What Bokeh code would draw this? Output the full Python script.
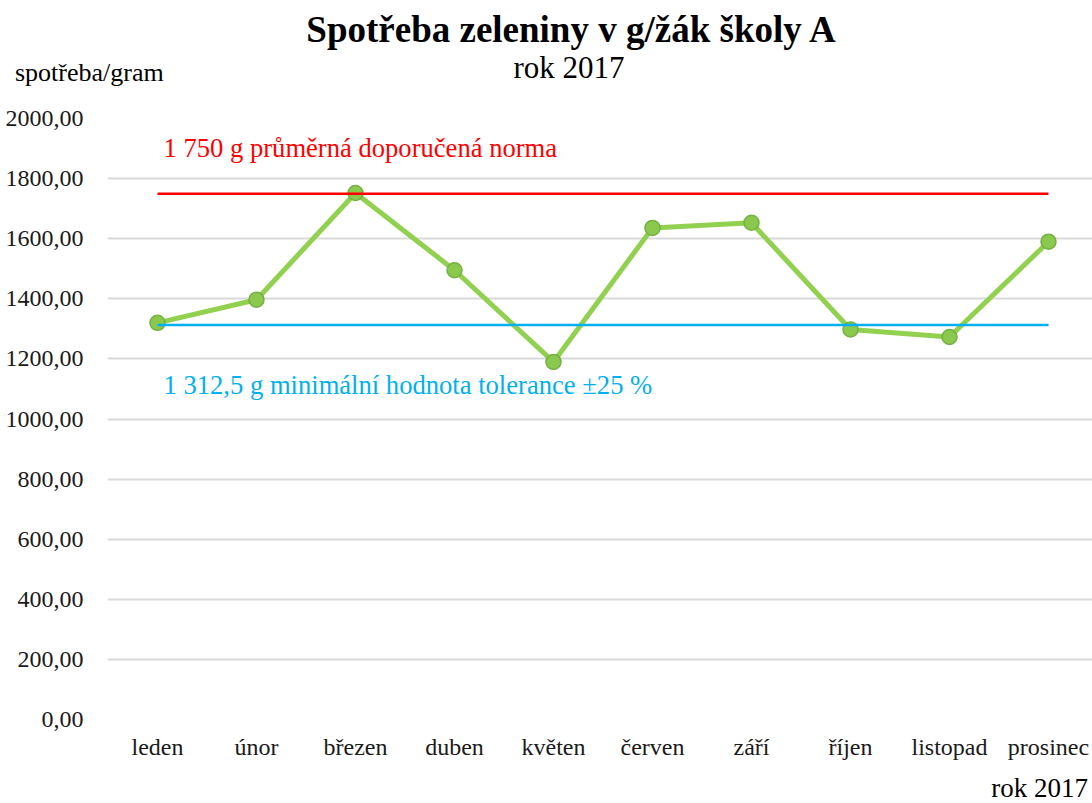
from bokeh.plotting import figure
from bokeh.models import FixedTicker, Range1d, Label, Div
from bokeh.layouts import column
from bokeh.embed import file_html
from bokeh.resources import INLINE

# ---- data ----
months = ["leden", "únor", "březen", "duben", "květen", "červen",
          "září", "říjen", "listopad", "prosinec"]
consumption = [1320, 1397, 1752, 1495, 1190, 1636, 1653, 1298, 1273, 1590]
norm_value = 1750.0
tolerance_value = 1312.5
y_ticks = [0, 200, 400, 600, 800, 1000, 1200, 1400, 1600, 1800, 2000]

title_text = "Spotřeba zeleniny v g/žák školy A"
subtitle_text = "rok 2017"
ylabel_text = "spotřeba/gram"
xlabel_text = "rok 2017"
norm_text = "1 750 g průměrná doporučená norma"
tol_text = "1 312,5 g minimální hodnota tolerance ±25 %"

FONT = "Liberation Serif"

# ---- layout (screen px) ----
W, H = 1092, 803
HEAD = 100
FOOT_TOP = 770
FL, FR, FT, FB = 107, 1092, 118, 719
STEP = 99.0
FIRST_CENTER = 157
X0 = -(FIRST_CENTER - FL) / STEP
X1 = X0 + (FR - FL) / STEP
Y0, Y1 = 0, 2000

def dx(px):
    return X0 + (px - FL) * (X1 - X0) / (FR - FL)

def dy(py):
    return Y0 + (FB - py) * (Y1 - Y0) / (FB - FT)

def span(text, size, top, left=None, right=None, center=None, bold=False):
    st = [f"position:absolute", f"top:{top}px", f"font-size:{size}px",
          "line-height:1", "white-space:nowrap", "color:#000"]
    if bold:
        st.append("font-weight:bold")
    if center is not None:
        st.append(f"left:{center}px")
        st.append("transform:translateX(-50%)")
    elif right is not None:
        st.append(f"right:{right}px")
    else:
        st.append(f"left:{left}px")
    return f'<span style="{";".join(st)}">{text}</span>'

def box(inner, h):
    return (f'<div style="position:relative;width:{W}px;height:{h}px;margin:0;'
            f'padding:0;font-family:\'{FONT}\',serif;">{inner}</div>')

head_html = box(
    span(title_text, 37, 11, center=571, bold=True)
    + span(subtitle_text, 31, 52, center=569)
    + span(ylabel_text, 26, 60, left=15), HEAD)
head = Div(text=head_html, width=W, height=HEAD,
           styles={"margin": "0", "padding": "0"})

foot_h = H - FOOT_TOP
foot_html = box(span(xlabel_text, 27, 5, right=W - 1088), foot_h)
foot = Div(text=foot_html, width=W, height=foot_h,
           styles={"margin": "0", "padding": "0"})

# ---- main chart ----
p = figure(width=W, height=FOOT_TOP - HEAD, output_backend="svg",
           toolbar_location=None, x_range=Range1d(X0, X1),
           y_range=Range1d(Y0, Y1), title=None,
           min_border_left=FL, min_border_right=W - FR,
           min_border_top=FT - HEAD, min_border_bottom=FOOT_TOP - FB)
p.outline_line_color = None
p.background_fill_color = "white"
p.border_fill_color = "white"

xs = list(range(len(months)))

p.xgrid.grid_line_color = None
p.ygrid.grid_line_color = "#D9D9D9"
p.ygrid.grid_line_width = 2

p.yaxis.ticker = FixedTicker(ticks=y_ticks)
p.yaxis.major_label_overrides = {v: f"{v:.2f}".replace(".", ",") for v in y_ticks}
p.yaxis.axis_line_color = None
p.yaxis.major_tick_line_color = None
p.yaxis.minor_tick_line_color = None
p.yaxis.major_label_text_font = FONT
p.yaxis.major_label_text_font_size = "24px"
p.yaxis.major_label_text_color = "#1a1a1a"
p.yaxis.major_label_standoff = 18

p.xaxis.ticker = FixedTicker(ticks=xs)
p.xaxis.major_label_overrides = {i: m for i, m in enumerate(months)}
p.xaxis.axis_line_color = None
p.xaxis.major_tick_line_color = None
p.xaxis.minor_tick_line_color = None
p.xaxis.major_label_text_font = FONT
p.xaxis.major_label_text_font_size = "24px"
p.xaxis.major_label_text_color = "#1a1a1a"
p.xaxis.major_label_standoff = 8

p.line(xs, consumption, line_color="#92D050", line_width=5)
p.scatter(xs, consumption, size=15, fill_color="#8BC94E", line_color="#74B043",
          line_width=1.5)

p.line([xs[0], xs[-1]], [norm_value, norm_value], line_color="#FF0000", line_width=2.5)
p.line([xs[0], xs[-1]], [tolerance_value, tolerance_value], line_color="#00B0F0",
       line_width=2.5)

p.add_layout(Label(x=dx(163), y=dy(147), text=norm_text, text_font=FONT,
                   text_font_size="26.6px", text_color="#FF0000",
                   text_baseline="middle"))
p.add_layout(Label(x=dx(163), y=dy(384), text=tol_text, text_font=FONT,
                   text_font_size="26.6px", text_color="#00B0F0",
                   text_baseline="middle"))

layout = column(head, p, foot, spacing=0)
open("out.html", "w").write(file_html(layout, INLINE))
